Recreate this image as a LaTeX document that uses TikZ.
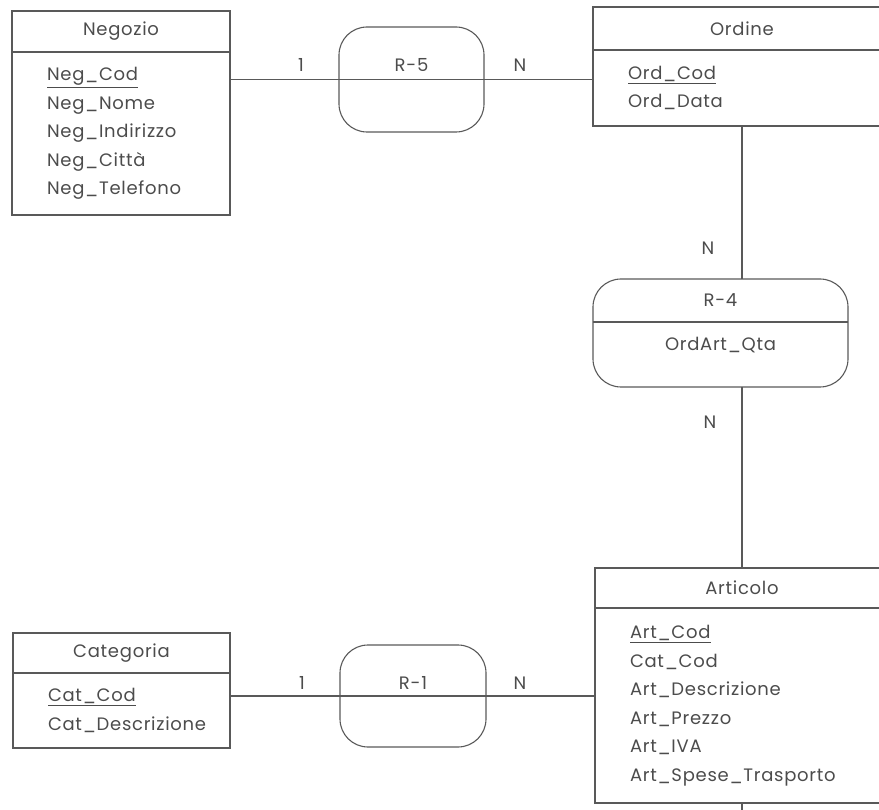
\documentclass[tikz,border=0pt]{standalone}
\usepackage{fontspec}
\setmainfont[LetterSpace=4]{Poppins}
\usetikzlibrary{positioning,calc}

\begin{document}
\begin{tikzpicture}[
x=1pt, y=-1pt,
every node/.style={text=black!70, font=\fontsize{18}{28.5}\selectfont, outer sep=0pt},
line/.style={draw=black!65, line width=1.1pt},
entity/.style={line, rectangle, inner sep=0pt, minimum width=#1},
attrs/.style={line, rectangle, inner xsep=35pt, inner ysep=0pt, text width=#1, align=left},
relation/.style={line, rectangle, rounded corners=28pt, inner sep=0pt},
card/.style={inner sep=1pt},
]
\path[use as bounding box] (0,0) rectangle (879,810);
\clip (0,0) rectangle (879,810);

% entities
\node[entity=218pt, minimum height=41pt, anchor=north west] (neg) at (12,11) {Negozio};
\node[attrs=148pt, minimum height=163pt, below=0pt of neg] (negb)
	{\underline{Neg\_Cod}\\Neg\_Nome\\Neg\_Indirizzo\\Neg\_Città\\Neg\_Telefono};

\node[entity=298pt, minimum height=43pt, anchor=north west] (ord) at (593,7) {Ordine};
\node[attrs=228pt, minimum height=76pt, below=0pt of ord] (ordb)
	{\underline{Ord\_Cod}\\Ord\_Data};

\node[entity=294pt, minimum height=40pt, anchor=north west] (art) at (595,568) {Articolo};
\node[attrs=224pt, minimum height=195pt, below=0pt of art] (artb)
	{\underline{Art\_Cod}\\Cat\_Cod\\Art\_Descrizione\\Art\_Prezzo\\Art\_IVA\\Art\_Spese\_Trasporto};

\node[entity=217pt, minimum height=40pt, anchor=north west] (cat) at (13,633) {Categoria};
\node[attrs=147pt, minimum height=75pt, below=0pt of cat] (catb)
	{\underline{Cat\_Cod}\\Cat\_Descrizione};

% relations
\node[relation, minimum width=145pt, minimum height=105pt] (r5) at (411.5,79.5) {};
\node (r5t) at ($(r5.center)+(0,-14)$) {R-5};
\node[relation, minimum width=146pt, minimum height=102pt] (r1) at (413,696) {};
\node (r1t) at ($(r1.center)+(0,-13)$) {R-1};
\node[relation, minimum width=255pt, minimum height=108pt] (r4) at (720.5,333) {};
\draw[line] ($(r4.west)+(0,-11)$) -- ($(r4.east)+(0,-11)$);
\node (r4t) at ($(r4.north)+(0,21.5)$) {R-4};
\node (r4a) at ($(r4.north)+(0,66)$) {OrdArt\_Qta};

% connectors
\draw[line] (negb.east |- r5.center) -- (ordb.west |- r5.center);
\draw[line] (catb.east |- r1.center) -- (artb.west |- r1.center);
\draw[line] (ordb.south) -- (ordb.south |- r4.north);
\draw[line] (r4.south -| art.north) -- (art.north);
\draw[line] (artb.south) -- ++(0,30);

% cardinalities
\node[card] at (301,65) {1};
\node[card] at (520,65) {N};
\node[card] at (302,683) {1};
\node[card] at (520,683) {N};
\node[card] at (708,248) {N};
\node[card] at (710,422) {N};
\end{tikzpicture}
\end{document}
